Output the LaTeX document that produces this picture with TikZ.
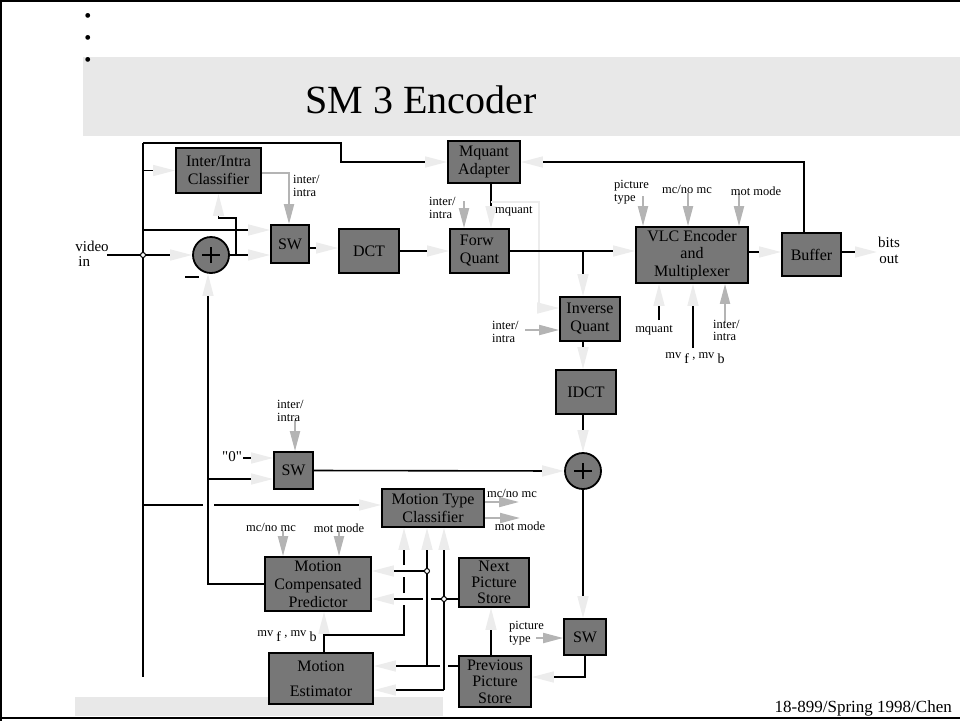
\documentclass[tikz,border=0pt]{standalone}
\usepackage{fontspec}
\setmainfont{Liberation Serif}
\newfontfamily\rawserif{Liberation Serif}[Ligatures=TeXOff]
\usetikzlibrary{arrows.meta}
\definecolor{boxgray}{RGB}{119,119,119}
\definecolor{lightarr}{RGB}{236,236,236}
\definecolor{midarr}{RGB}{180,180,180}
\definecolor{bandgray}{RGB}{232,232,232}
\tikzset{
  box/.style={draw=black, fill=boxgray, line width=1.8pt, inner sep=0pt, align=center, font=\fontsize{16}{18}\selectfont},
  adder/.style={circle, draw=black, fill=boxgray, line width=1.8pt, inner sep=0pt, minimum size=36pt},
  la/.style={draw=black, line width=1.6pt, -{Triangle[length=22pt,width=11pt,color=lightarr]}},
  lgl/.style={draw=lightarr, line width=1.6pt, -{Triangle[length=22pt,width=11pt,color=lightarr]}},
  ga/.style={draw=midarr, line width=2pt, -{Triangle[length=20pt,width=10pt,color=midarr]}},
  bl/.style={draw=black, line width=1.6pt},
  lbl/.style={font=\fontsize{12.5}{12.5}\selectfont, inner sep=0pt, align=left},
  dot/.style={draw=black, fill=white, line width=1pt}
}
\begin{document}
\begin{tikzpicture}[x=1pt,y=-1pt]
\useasboundingbox (0,0) rectangle (960,721);
% bands and frame
\fill[bandgray] (83,57) rectangle (960,136);
\fill[bandgray] (75,697) rectangle (443,716);
\draw[line width=2pt] (1,0) -- (1,721);
\draw[line width=2pt] (0,1) -- (960,1);
\draw[line width=2.5pt] (0,718) -- (960,718);
% bullets, title, footer
\node[font=\fontsize{20}{20}\selectfont, inner sep=0pt] (b1) at (88,18) {\textbullet};
\node[font=\fontsize{20}{20}\selectfont, inner sep=0pt] (b2) at (88,40) {\textbullet};
\node[font=\fontsize{20}{20}\selectfont, inner sep=0pt] (b3) at (88,62) {\textbullet};
\node[font=\fontsize{40}{40}\selectfont, anchor=base, inner sep=0pt] (title) at (421,113) {SM 3 Encoder};
\node[font=\fontsize{17}{17}\selectfont, anchor=base east, inner sep=0pt] (foot) at (952,712) {18-899/Spring 1998/Chen};

% blocks
\node[box, minimum width=85pt, minimum height=45pt] (iic) at (218.5,170.5) {Inter/Intra\\Classifier};
\node[box, minimum width=38pt, minimum height=38pt] (sw1) at (290,244) {SW};
\node[box, minimum width=60pt, minimum height=44pt] (dct) at (369,251) {DCT};
\node[box, minimum width=59pt, minimum height=44pt, align=left] (fq) at (479.5,251) {Forw\\Quant};
\node[box, minimum width=72pt, minimum height=42pt] (mqa) at (484,162) {Mquant\\Adapter};
\node[box, minimum width=112pt, minimum height=56pt, font=\fontsize{16}{17.5}\selectfont] (vlc) at (692,255) {VLC Encoder\\and\\Multiplexer};
\node[box, minimum width=59pt, minimum height=43pt] (buf) at (811.5,254.5) {Buffer};
\node[box, minimum width=60pt, minimum height=44pt] (iq) at (590,319) {Inverse\\Quant};
\node[box, minimum width=60pt, minimum height=44pt] (idct) at (586,392) {IDCT};
\node[adder] (add1) at (211,255) {};
\node[adder] (add2) at (583,471) {};
\node[box, minimum width=39pt, minimum height=37pt] (sw2) at (293.5,470.5) {SW};
\node[box, minimum width=102pt, minimum height=38pt] (mtc) at (433,508) {Motion Type\\Classifier};
\node[box, minimum width=106pt, minimum height=54pt] (mcp) at (318,584) {Motion\\Compensated\\Predictor};
\node[box, minimum width=104pt, minimum height=51pt] (me) at (321,678.5) {Motion\\[7pt]Estimator};
\node[box, minimum width=70pt, minimum height=49pt, font=\fontsize{16}{16}\selectfont] (nps) at (494,582.5) {Next\\Picture\\Store};
\node[box, minimum width=72pt, minimum height=51pt, font=\fontsize{16}{16.5}\selectfont] (pps) at (495,681.5) {Previous\\Picture\\Store};
\node[box, minimum width=42pt, minimum height=36pt] (sw3) at (585,637) {SW};

% plus and minus signs
\draw[line width=1.8pt] ([xshift=-9pt]add1.center) -- ([xshift=9pt]add1.center);
\draw[line width=1.8pt] ([yshift=-8pt]add1.center) -- ([yshift=8pt]add1.center);
\draw[line width=1.8pt] ([xshift=-9pt]add2.center) -- ([xshift=9pt]add2.center);
\draw[line width=1.8pt] ([yshift=-8pt]add2.center) -- ([yshift=8pt]add2.center);
\draw[line width=1.8pt] (185,277) -- (199,277);

% coordinates for free ends
\coordinate (vin) at (107,255);
\coordinate (bout) at (877,252);

% forward path
\draw[la] (vin) -- (add1.west);
\draw[bl] (143,143) -- (143,677);
\draw[la] (143,143) -- (341,143) -- (341,162) -- (mqa.west);
\draw[la] (143,0 |- iic.west) -- (iic.west);
\draw[la] (143,230) -- (sw1.west |- 0,230);
\draw[la] (add1.east) -- (sw1.west |- add1.east);
\draw[la] (236,255) -- (236,218) -- (iic.south |- 0,218) -- (iic.south);
\draw[ga] (iic.east |- 0,173) -- (289,173) -- (289,0 |- sw1.north);
\draw[la] (sw1.east |- 0,248) -- (dct.west |- 0,248);
\draw[la] (dct.east) -- (fq.west);
\draw[la] (491,0 |- mqa.south) -- (491,0 |- fq.north);
\draw[lgl] (491,202) -- (539,202) -- (539,308) -- (iq.west |- 0,308);
\draw[ga] (464,201) -- (464,0 |- fq.north);
\draw[la] (fq.east) -- (vlc.west |- fq.east);
\draw[la] (583,0 |- fq.east) -- (583,0 |- iq.north);
\draw[la] (583,0 |- iq.south) -- (583,0 |- idct.north);
\draw[la] (583,0 |- idct.south) -- (add2.north);
\draw[la] (add2.south) -- (583,0 |- sw3.north);
\draw[la] (vlc.east |- 0,252) -- (buf.west |- 0,252);
\draw[la] (buf.east |- 0,252) -- (bout);
\draw[la] (804,0 |- buf.north) -- (804,162) -- (mqa.east);
% VLC side inputs
\draw[ga] (643,196) -- (643,0 |- vlc.north);
\draw[ga] (688,193) -- (688,0 |- vlc.north);
\draw[ga] (739,193) -- (739,0 |- vlc.north);
\draw[la] (659,320) -- (659,0 |- vlc.south);
\draw[la] (693,348) -- (693,0 |- vlc.south);
\draw[ga] (725,322) -- (725,0 |- vlc.south);
\draw[ga] (525,330) -- (iq.west |- 0,330);
% second switch and prediction loop
\draw[ga] (295,420) -- (295,0 |- sw2.north);
\draw[la] (243,458) -- (sw2.west |- 0,458);
\draw[la] (208,479) -- (sw2.west |- 0,479);
\draw[la] (sw2.east) -- (add2.west);
\draw[la] (mcp.west) -- (208,0 |- mcp.west) -- (208,0 |- add1.south);
\draw[bl] (143,505) -- (203,505);
\draw[la] (214,505) -- (mtc.west |- 0,505);
\draw[ga] (283,531) -- (283,0 |- mcp.north);
\draw[ga] (339,531) -- (339,0 |- mcp.north);
\draw[ga] (mtc.east |- 0,502) -- (519,502);
\draw[ga] (mtc.east |- 0,518) -- (520,518);
% motion estimator vectors
\draw[la] (324,0 |- me.north) -- (324,0 |- mcp.south);
\draw[bl] (324,635) -- (404,635) -- (404,605);
\draw[bl] (404,593) -- (404,577);
\draw[la] (404,565) -- (404,0 |- mtc.south);
% previous picture store
\draw[bl] (pps.west |- 0,666) -- (448,666);
\draw[la] (440,666) -- (me.east |- 0,666);
\draw[la] (427,666) -- (427,0 |- mtc.south);
\draw[la] (427,571) -- (mcp.east |- 0,571);
% next picture store
\draw[bl] (nps.west |- 0,599) -- (431,599);
\draw[la] (423,599) -- (mcp.east |- 0,599);
\draw[la] (444,690) -- (444,0 |- mtc.south);
\draw[la] (444,690) -- (me.east |- 0,690);
\draw[la] (491,0 |- pps.north) -- (491,0 |- nps.south);
% third switch
\draw[la] (sw3.south) -- (585,677) -- (pps.east |- 0,677);
\draw[ga] (536,638) -- (sw3.west |- 0,638);
% junction dots
\draw[dot] (143,255) circle (2.5);
\draw[dot] (427,571) circle (2.5);
\draw[dot] (444,599) circle (2.5);

% text labels
\node[font=\fontsize{15}{15}\selectfont, align=left, inner sep=0pt] (vidin) at (92,254) {video\\\hspace{3pt}in};
\node[font=\fontsize{15}{16}\selectfont, align=center, inner sep=0pt] (bitsout) at (889,250) {bits\\out};
\node[lbl, anchor=west] (l1) at (293,186) {inter/\\intra};
\node[lbl, anchor=west] (l2) at (429,208) {inter/\\intra};
\node[lbl, anchor=west] (l3) at (495,211) {mquant};
\node[lbl, anchor=west] (l4) at (614,192) {picture\\type};
\node[lbl] (l5) at (687,189) {mc/no mc};
\node[lbl] (l6) at (756,191) {mot mode};
\node[lbl] (l7) at (654,330) {mquant};
\node[lbl, anchor=north west] (l8) at (713,320) {inter/\\intra};
\node[lbl] (l9) at (695,358) {mv \raisebox{-5pt}{\fontsize{14}{14}\selectfont f} , mv \raisebox{-5pt}{\fontsize{14}{14}\selectfont b}};
\node[lbl, anchor=west] (l10) at (492,332) {inter/\\intra};
\node[lbl, anchor=west] (l11) at (277,411) {inter/\\intra};
\node[font=\fontsize{15}{15}\rawserif, inner sep=0pt] (zero) at (232,457) {"0"};
\node[lbl] (l13) at (271,527) {mc/no mc};
\node[lbl] (l14) at (339,528) {mot mode};
\node[lbl] (l15) at (512,493) {mc/no mc};
\node[lbl] (l16) at (520,526) {mot mode};
\node[lbl] (l17) at (287,636) {mv \raisebox{-5pt}{\fontsize{14}{14}\selectfont f} , mv \raisebox{-5pt}{\fontsize{14}{14}\selectfont b}};
\node[lbl, anchor=west] (l18) at (509,633) {picture\\type};
\end{tikzpicture}
\end{document}
